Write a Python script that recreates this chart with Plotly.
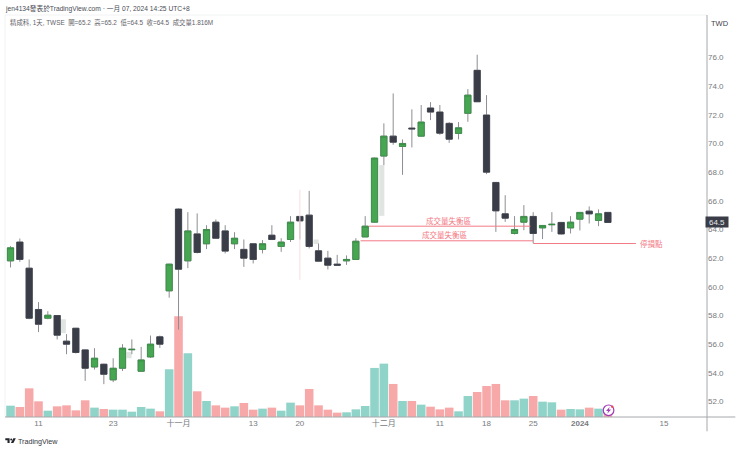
import plotly.graph_objects as go

# px position of the plot area inside the 740x450 page
LEFT, RIGHT, TOP, BOTTOM = 5, 706.7, 15, 416.7

opens = [61.82, 63.13, 61.31, 58.43, 57.82, 58.01, 56.22, 57.12, 55.61, 54.42, 54.61, 53.52, 54.33,
         55.62, 54.12, 55.12, 56.52, 59.73, 65.43, 61.82, 63.70, 63.01, 64.52, 63.91, 63.01, 62.62,
         63.01, 62.62, 63.61, 62.83, 63.31, 64.92, 65.01, 62.52, 62.01, 61.59, 61.82, 61.92, 63.49,
         64.52, 69.13, 70.52, 69.80, 71.08, 70.52, 72.48, 72.20, 71.41, 70.71, 72.11, 75.11, 71.99,
         67.29, 65.10, 63.73, 64.52, 64.92, 64.12, 64.34, 64.50, 64.12, 64.73, 65.29, 64.64, 65.20]
highs = [62.85, 63.38, 61.92, 58.94, 58.31, 58.03, 56.71, 57.15, 55.65, 55.73, 54.65, 55.03, 56.01,
         56.34, 55.82, 56.61, 56.61, 61.62, 65.48, 65.22, 65.13, 64.31, 64.71, 64.31, 63.82, 63.31,
         63.05, 63.27, 64.31, 63.40, 64.94, 64.95, 66.70, 63.03, 62.52, 62.24, 62.20, 63.40, 64.94,
         69.03, 71.41, 73.50, 70.29, 72.39, 72.69, 72.89, 72.69, 71.50, 71.50, 73.80, 76.20, 73.38,
         67.32, 66.40, 64.94, 65.71, 65.22, 64.31, 65.22, 64.52, 64.94, 65.22, 65.62, 65.41, 65.20]
lows = [61.36, 61.75, 57.75, 56.85, 57.75, 56.34, 55.31, 55.36, 53.45, 54.24, 53.22, 53.36, 54.14,
        55.31, 54.07, 55.05, 55.75, 59.25, 57.03, 61.31, 62.34, 62.64, 63.36, 62.34, 62.64, 61.40,
        61.64, 62.34, 63.27, 62.45, 63.14, 63.31, 62.69, 61.80, 61.22, 61.52, 61.54, 61.92, 63.49,
        64.48, 68.50, 69.92, 67.82, 69.73, 70.50, 71.64, 70.61, 70.05, 70.29, 71.52, 72.92, 67.87,
        63.84, 64.54, 63.66, 63.96, 63.05, 63.34, 63.84, 63.66, 63.73, 63.94, 64.43, 64.24, 64.50]
closes = [62.73, 61.92, 57.82, 57.40, 58.03, 56.64, 56.01, 55.43, 54.33, 55.03, 53.91, 54.33, 55.73,
          55.65, 54.91, 56.01, 56.01, 61.59, 61.24, 63.91, 62.41, 64.01, 63.40, 62.50, 63.40, 62.01,
          61.92, 63.01, 63.31, 63.13, 64.52, 64.61, 62.83, 61.80, 61.52, 61.52, 61.92, 63.19, 64.24,
          68.99, 70.52, 70.10, 70.01, 71.03, 71.50, 72.20, 70.73, 70.31, 71.10, 73.38, 72.92, 68.01,
          65.31, 64.80, 64.01, 64.92, 63.73, 64.29, 64.37, 63.70, 64.52, 65.20, 65.10, 65.10, 64.50]
volumes = [2.47, 2.18, 6.25, 3.42, 1.38, 2.33, 2.54, 1.45, 3.64, 2.04, 1.74, 1.60, 1.60,
           1.16, 2.18, 1.82, 1.24, 10.40, 21.96, 13.89, 5.60, 3.49, 2.54, 2.04, 2.33, 3.05,
           1.60, 1.82, 2.04, 1.38, 3.13, 2.54, 6.11, 2.54, 1.60, 0.95, 1.02, 1.67, 2.40,
           10.69, 11.63, 7.20, 3.49, 3.49, 2.69, 2.25, 1.67, 2.04, 1.24, 4.58, 5.45, 6.76,
           7.20, 3.64, 3.64, 4.00, 4.58, 3.34, 3.20, 1.60, 1.74, 1.67, 2.04, 1.82, 1.816]
bars = list(range(len(opens)))

tick_pos = [3, 11, 18, 26, 31, 40, 46, 51, 56, 61, 70]
tick_text = ["11", "23", "十一月", "13", "20", "十二月", "11", "18", "25", "<b>2024</b>", "15"]
price_ticks = [52, 54, 56, 58, 60, 62, 64, 66, 68, 70, 72, 74, 76]

# faded leftovers of erased drawings
ghost_x = [5.66, 12.7, 39.78, 32.74]
ghost_top = [57.75, 55.47, 68.5, 63.31]
ghost_bottom = [56.78, 55.03, 64.96, 62.99]

# hand drawn levels
zone1_x, zone1_y = [38.4, 55.7], [64.24, 64.24]
zone2_x, zone2_y = [37.5, 56], [63.22, 63.22]
stop_x, stop_y = [56, 67], [63.03, 63.03]
erase_x, erase_y = [31, 31], [66.78, 60.5]

UP = "#46A652"
UP_EDGE = "#348A41"
DOWN = "#3A3D48"
WICK = "#8D8F94"
VOL_UP = "#8FD3C9"
VOL_DOWN = "#F7A9A9"
RED = "#F27A85"
TEXT = "#777A80"


def px_x(x):
    return (x - LEFT) / (RIGHT - LEFT)


def px_y(y):
    return (BOTTOM - y) / (BOTTOM - TOP)


def path(points):
    return "M " + " L ".join(f"{px_x(x):.5f} {px_y(y):.5f}" for x, y in points) + " Z"


def px_line(x0, y0, x1, y1, color, width=1):
    return dict(type="line", xref="paper", yref="paper", x0=px_x(x0), y0=px_y(y0), x1=px_x(x1), y1=px_y(y1),
                line=dict(color=color, width=width))


def label(x, y, text, size=8, color=TEXT, anchor="left", font="Liberation Sans, Noto Sans CJK TC", **kw):
    return dict(xref="paper", yref="paper", x=px_x(x), y=px_y(y), text=text, showarrow=False, xanchor=anchor,
                yanchor="middle", borderpad=0, borderwidth=0, font=dict(size=size, color=color, family=font), **kw)


fig = go.Figure()

fig.add_trace(go.Bar(x=bars, y=volumes, yaxis="y", width=0.92,
                     marker=dict(color=[VOL_UP if c >= o else VOL_DOWN for o, c in zip(opens, closes)], line_width=0)))
fig.add_trace(go.Bar(x=ghost_x, y=[t - b for t, b in zip(ghost_top, ghost_bottom)], base=ghost_bottom, yaxis="y2",
                     width=0.55, marker=dict(color="#E1E5E2", line_width=0)))
fig.add_trace(go.Scatter(x=erase_x, y=erase_y, yaxis="y2", mode="lines", line=dict(color="#F9DDE0", width=1)))

# wicks first, grey, then the bodies on top with their own outline
fig.add_trace(go.Candlestick(x=bars, open=opens, high=highs, low=lows, close=closes, yaxis="y2", whiskerwidth=0,
                             increasing=dict(line=dict(color=WICK, width=1), fillcolor=WICK),
                             decreasing=dict(line=dict(color=WICK, width=1), fillcolor=WICK)))
body_hi = [max(o, c) for o, c in zip(opens, closes)]
body_lo = [min(o, c) for o, c in zip(opens, closes)]
fig.add_trace(go.Candlestick(x=bars, open=opens, high=body_hi, low=body_lo, close=closes, yaxis="y2", whiskerwidth=0,
                             increasing=dict(line=dict(color=UP_EDGE, width=0.7), fillcolor=UP),
                             decreasing=dict(line=dict(color=DOWN, width=0.7), fillcolor=DOWN)))

for xs, ys in [(zone1_x, zone1_y), (zone2_x, zone2_y), (stop_x, stop_y)]:
    fig.add_trace(go.Scatter(x=xs, y=ys, yaxis="y2", mode="lines", line=dict(color=RED, width=1)))

shapes = [
    px_line(LEFT, TOP, RIGHT, TOP, "#F1F2F3"),
    px_line(LEFT, TOP, LEFT, BOTTOM, "#F1F2F3"),
    px_line(LEFT, BOTTOM, 735, BOTTOM, "#A6A8AB"),
    px_line(RIGHT, TOP, RIGHT, 431, "#A6A8AB"),
    # TradingView logo
    dict(type="path", xref="paper", yref="paper", line_width=0, fillcolor="#22252C",
         path=path([(5.3, 438), (9.6, 438), (9.6, 442.8), (7.5, 442.8), (7.5, 440), (5.3, 440)])),
    dict(type="path", xref="paper", yref="paper", line_width=0, fillcolor="#22252C",
         path=path([(13.3, 438), (15.8, 438), (13.4, 442.8), (10.9, 442.8)])),
    dict(type="circle", xref="paper", yref="paper", line_width=0, fillcolor="#22252C",
         x0=px_x(10.2), x1=px_x(12.2), y0=px_y(440.2), y1=px_y(438.2)),
    # lightning badge
    dict(type="circle", xref="paper", yref="paper", line=dict(color="#A23BB5", width=1.2), fillcolor="white",
         x0=px_x(603), x1=px_x(613.6), y0=px_y(415.3), y1=px_y(404.7)),
    dict(type="path", xref="paper", yref="paper", line_width=0, fillcolor="#A23BB5",
         path=path([(609.5, 406.5), (605.8, 410.6), (608, 410.6), (607, 413.5), (610.8, 409.3), (608.6, 409.3)])),
    dict(type="circle", xref="paper", yref="paper", line_width=0, fillcolor="#EF4A55",
         x0=px_x(610.8), x1=px_x(613.2), y0=px_y(407.6), y1=px_y(405.2)),
]

annotations = [
    label(5, 8.5, "jen4134發表於TradingView.com · 一月 07, 2024 14:25 UTC+8", size=6.7, color="#4A4D55"),
    label(9.5, 22.7, "精成科, 1天, TWSE&nbsp;&nbsp;開=65.2&nbsp;&nbsp;高=65.2&nbsp;&nbsp;低=64.5&nbsp;&nbsp;"
                     "收=64.5&nbsp;&nbsp;成交量1.816M", size=6.4, color="#5F6269"),
    label(720, 23, "TWD", size=7.5, color="#3F424A", anchor="center"),
    label(18, 441, "TradingView", size=7.2, color="#33363D"),
    label(449, 220.5, "成交量失衡區", size=7.5, color=RED, anchor="center"),
    label(445, 234.5, "成交量失衡區", size=7.5, color=RED, anchor="center"),
    label(651, 243.7, "停損點", size=7.5, color=RED, anchor="center"),
    dict(xref="paper", yref="y2", x=px_x(717), y=closes[-1], text="64.5", showarrow=False, xanchor="center",
         yanchor="middle", width=20, height=8, bgcolor="#3A3D48", font=dict(size=8, color="#E8E8EA",
                                                                              family="Liberation Sans")),
]

fig.update_layout(
    width=740,
    height=450,
    margin=dict(l=LEFT, r=740 - RIGHT, t=TOP, b=450 - BOTTOM, pad=0),
    paper_bgcolor="white",
    plot_bgcolor="white",
    showlegend=False,
    barmode="overlay",
    boxgap=0.05,
    xaxis=dict(range=[-0.59, 74.62], tickvals=tick_pos, ticktext=tick_text, showgrid=False, zeroline=False,
               rangeslider=dict(visible=False), ticks="", tickangle=0, showline=False,
               tickfont=dict(size=8, color=TEXT, family="Liberation Sans, Noto Sans CJK TC")),
    yaxis=dict(range=[0, 87.6], visible=False, showgrid=False, zeroline=False),
    yaxis2=dict(range=[50.93, 78.97], overlaying="y", side="right", tickvals=price_ticks,
                ticktext=[f"{p:.1f}" for p in price_ticks], showgrid=False, zeroline=False, ticks="",
                tickfont=dict(size=8, color=TEXT, family="Liberation Sans")),
    shapes=shapes,
    annotations=annotations,
)

fig.write_html("out.html", config=dict(displayModeBar=False), post_script="document.body.style.margin='0';")
